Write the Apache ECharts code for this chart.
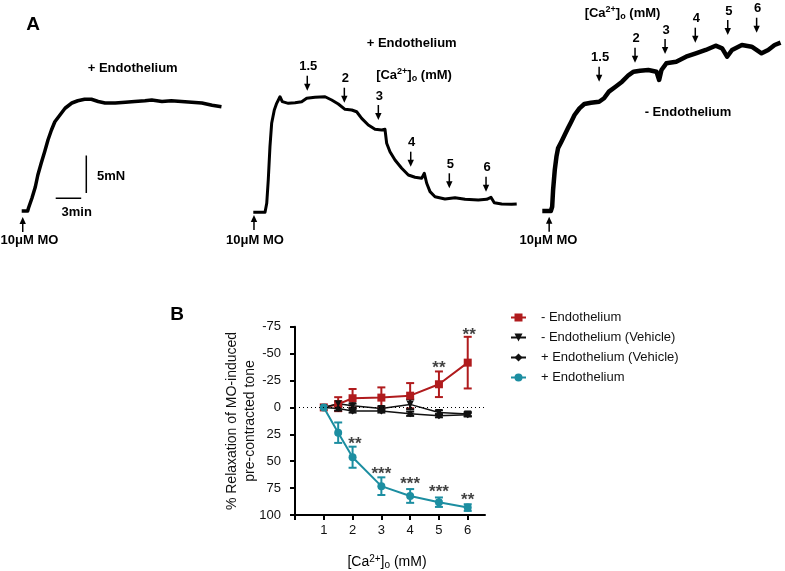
<!DOCTYPE html>
<html><head><meta charset="utf-8">
<script src="https://cdn.jsdelivr.net/npm/echarts@6/dist/echarts.min.js"></script>
<style>html,body{margin:0;padding:0;background:#fff}#c{width:785px;height:571px}</style>
</head><body><div id="c"></div>
<script>
// ---------- Panel A: myograph traces, [time (min), force (mN)] ----------
const trace1 = [[0,0],[0.7,0],[0.8,0.4],[1.2,1.7],[1.6,3.2],[1.9,4.8],[2.3,6.4],[2.7,7.9],[3.1,9.5],[3.5,10.8],[3.9,11.9],[4.5,12.8],[5.1,13.7],[5.9,14.4],[6.6,14.7],[7.4,14.9],[8.2,14.9],[9.0,14.6],[9.8,14.4],[11.0,14.4],[12.2,14.5],[13.3,14.6],[14.5,14.7],[15.3,14.8],[16.5,14.6],[17.6,14.7],[18.8,14.6],[20.0,14.5],[21.2,14.4],[22.4,14.1],[23.5,13.9]];
const trace2 = [[0,0],[1.38,0],[1.58,1.2],[1.76,4.31],[1.96,8.75],[2.16,11.87],[2.47,13.64],[2.75,14.53],[3.14,15.41],[3.41,14.75],[4.12,14.53],[4.91,14.61],[5.69,14.75],[6.28,15.2],[7.26,15.33],[8.44,15.41],[9.22,14.97],[10.0,14.44],[10.79,13.73],[11.58,13.64],[12.16,13.41],[12.75,12.53],[13.53,11.64],[14.32,11.07],[15.11,10.97],[15.49,11.07],[15.69,9.2],[16.08,8.08],[16.67,6.97],[17.46,5.87],[18.24,4.97],[19.02,4.67],[19.81,4.53],[20.12,5.2],[20.4,3.87],[20.79,2.75],[21.38,2.08],[22.55,1.77],[23.73,1.95],[24.91,1.73],[26.47,1.64],[27.46,1.73],[27.96,2.0],[28.35,1.28],[29.22,1.11],[30.4,1.07],[30.99,1.11]];
const trace3 = [[0,0],[1.02,0],[1.18,0.57],[1.29,2.8],[1.49,5.47],[1.69,7.24],[1.88,8.36],[2.28,9.24],[2.67,10.13],[3.06,11.03],[3.46,11.91],[3.85,12.8],[4.44,13.69],[5.02,14.27],[5.81,14.44],[6.79,14.57],[7.38,15.03],[7.96,15.91],[8.75,16.57],[9.53,17.24],[10.32,18.13],[10.91,18.57],[11.69,18.71],[12.67,18.8],[13.65,18.57],[13.96,17.47],[14.24,18.8],[14.82,19.69],[16.0,19.91],[17.18,20.57],[18.35,21.03],[19.53,21.47],[20.71,22.04],[21.49,21.69],[22.08,20.57],[22.67,21.47],[23.85,22.13],[25.02,21.91],[26.2,21.03],[26.99,21.47],[27.76,22.13],[28.47,22.44]];
// [Ca2+]o addition markers: [time, force at arrow tip, label]
const trace2Arrows = [[6.35,16.21,'1.5'],[10.71,14.61,'2'],[14.71,12.31,'3'],[18.52,6.08,'4'],[23.06,3.2,'5'],[27.38,2.75,'6']];
const trace3Arrows = [[6.79,17.24,'1.5'],[11.08,19.77,'2'],[14.67,20.93,'3'],[18.28,22.44,'4'],[22.16,23.47,'5'],[25.61,23.77,'6']];
// 10 uM MO addition (arrow from below)
const moArrow1 = [[0.12,-0.8]];
const moArrow2 = [[0.08,-0.36]];
const moArrow3 = [[0.82,-0.76]];
// scale bars (trace 1 units)
const scaleBarForce = [[7.6,2.4],[7.6,7.4]];   // 5 mN
const scaleBarTime = [[4.0,1.7],[7.0,1.7]];    // 3 min

// ---------- Panel B ----------
const caConc = [1,1.5,2,3,4,5,6];
const minusEndo = [0,-3,-8.5,-9.1,-10.9,-21.5,-41.6];
const minusEndoErr = [0,6.5,8.6,9.5,11.7,11.9,24];
const minusEndoVeh = [0,-3.5,-1.5,1,-2.8,4.7,6.2];
const minusEndoVehErr = [0,2,2,2,4.5,2,2];
const plusEndoVeh = [0,1,3.3,3.3,5.9,7.7,6.8];
const plusEndoVehErr = [0,2,1.5,1.5,2,1.5,1.5];
const plusEndo = [0,23.5,46.3,73.2,82.3,88.1,93.1];
const plusEndoErr = [0,9.5,9.8,8.2,6.4,4.4,3.1];
const sigRed = [[5,-40,'**'],[6.05,-70.4,'**']];
const sigTeal = [[2.08,30.2,'**'],[3,58.1,'***'],[4,67.4,'***'],[5,75.1,'***'],[6,82.3,'**']];
const seriesNames = ['- Endothelium','- Endothelium (Vehicle)','+ Endothelium (Vehicle)','+ Endothelium'];
const yTicks = [-75,-50,-25,0,25,50,75,100];

const FONT = 'Liberation Sans, Arial, sans-serif';
const RED = '#b01b1d', TEAL = '#1c8ea1', BLK = '#111';
const PX_MIN = 8.5, PX_MN = 7.5;

function traceGrid(x0, y0, tMax, fMin, fMax) {
  return {left: x0, top: y0 - fMax*PX_MN, width: tMax*PX_MIN, height: (fMax-fMin)*PX_MN, containLabel:false};
}
const traceGrids = [
  {g: traceGrid(21.7, 211, 24, -5, 16), t:24, fmin:-5, fmax:16},
  {g: traceGrid(253.3, 212.3, 31.5, -5, 16), t:31.5, fmin:-5, fmax:16},
  {g: traceGrid(542.3, 211, 29, -5, 24), t:29, fmin:-5, fmax:24}
];

const grids = traceGrids.map(o => o.g);
grids.push({left:295, top:326.7, width:190, height:188.3});
const xAxes = traceGrids.map((o,i) => ({type:'value', gridIndex:i, min:0, max:o.t, show:false}));
const yAxes = traceGrids.map((o,i) => ({type:'value', gridIndex:i, min:o.fmin, max:o.fmax, show:false}));
xAxes.push({type:'value', gridIndex:3, min:0, max:6.6, interval:1,
  axisLine:{show:true, onZero:false, lineStyle:{color:'#000', width:2}},
  axisTick:{show:true, length:5, lineStyle:{color:'#000', width:2}, customValues:[0,1,2,3,4,5,6]},
  axisLabel:{customValues:[1,2,3,4,5,6], margin:9, fontSize:13, color:'#111', fontFamily:FONT},
  splitLine:{show:false}});
yAxes.push({type:'value', gridIndex:3, min:-75, max:100, interval:25, inverse:true,
  axisLine:{show:true, onZero:false, lineStyle:{color:'#000', width:2}},
  axisTick:{show:true, length:5, lineStyle:{color:'#000', width:2}},
  axisLabel:{margin:14, fontSize:13, color:'#111', fontFamily:FONT},
  splitLine:{show:false}});

function arrowSeries(gi, arr, dir) {
  return {
    type:'custom', xAxisIndex:gi, yAxisIndex:gi, silent:true, clip:false, z:5,
    data: arr.map(a => [a[0], a[1]]),
    renderItem: (params, api) => {
      const p = api.coord([api.value(0), api.value(1)]);
      const L = 15, hw = 3.2, hh = 7;
      const s = dir; // 1 = pointing down, -1 = pointing up
      const lbl = arr[params.dataIndex][2];
      const ch = [
        {type:'line', shape:{x1:p[0], y1:p[1]-s*(hh-1), x2:p[0], y2:p[1]-s*L}, style:{stroke:'#000', lineWidth:1.5}},
        {type:'polygon', shape:{points:[[p[0],p[1]],[p[0]-hw,p[1]-s*hh],[p[0]+hw,p[1]-s*hh]]}, style:{fill:'#000'}}
      ];
      if (lbl) ch.push({type:'text', style:{text:lbl, x:p[0]+1, y:p[1]-s*(L+9), align:'center', verticalAlign:'middle', font:'bold 13px '+FONT, fill:'#000'}});
      return {type:'group', children:ch};
    }
  };
}

function errSeries(vals, errs, color) {
  return {
    type:'custom', xAxisIndex:3, yAxisIndex:3, silent:true, z:2,
    data: caConc.map((c,i) => [c, vals[i]-errs[i], vals[i]+errs[i]]),
    renderItem: (params, api) => {
      if (api.value(2) === api.value(1)) return null;
      const a = api.coord([api.value(0), api.value(1)]);
      const b = api.coord([api.value(0), api.value(2)]);
      const w = 4;
      const st = {stroke:color, lineWidth:2};
      return {type:'group', children:[
        {type:'line', shape:{x1:a[0], y1:a[1], x2:b[0], y2:b[1]}, style:st},
        {type:'line', shape:{x1:a[0]-w, y1:a[1], x2:a[0]+w, y2:a[1]}, style:st},
        {type:'line', shape:{x1:b[0]-w, y1:b[1], x2:b[0]+w, y2:b[1]}, style:st}
      ]};
    }
  };
}

function sigSeries(arr) {
  return {
    type:'scatter', xAxisIndex:3, yAxisIndex:3, symbolSize:0, silent:true, z:6,
    data: arr.map(a => ({value:[a[0], a[1]], label:{formatter:a[2]}})),
    label:{show:true, position:'inside', fontSize:17, fontWeight:'bold', color:'#111', fontFamily:FONT, offset:[0,4]}
  };
}

const traceStyle = w => ({color:'#000', width:w, join:'round'});
const series = [
  {type:'line', xAxisIndex:0, yAxisIndex:0, data:trace1, showSymbol:false, silent:true, lineStyle:traceStyle(3.5)},
  {type:'line', xAxisIndex:1, yAxisIndex:1, data:trace2, showSymbol:false, silent:true, lineStyle:traceStyle(3)},
  {type:'line', xAxisIndex:2, yAxisIndex:2, data:trace3, showSymbol:false, silent:true, lineStyle:traceStyle(4.5)},
  {type:'line', xAxisIndex:0, yAxisIndex:0, data:scaleBarForce, showSymbol:false, silent:true, lineStyle:{color:'#000', width:1.5}},
  {type:'line', xAxisIndex:0, yAxisIndex:0, data:scaleBarTime, showSymbol:false, silent:true, lineStyle:{color:'#000', width:1.5}},
  arrowSeries(1, trace2Arrows, 1),
  arrowSeries(2, trace3Arrows, 1),
  arrowSeries(0, moArrow1, -1),
  arrowSeries(1, moArrow2, -1),
  arrowSeries(2, moArrow3, -1),
  errSeries(minusEndo, minusEndoErr, RED),
  errSeries(minusEndoVeh, minusEndoVehErr, BLK),
  errSeries(plusEndoVeh, plusEndoVehErr, BLK),
  errSeries(plusEndo, plusEndoErr, TEAL),
  {name:seriesNames[0], type:'line', xAxisIndex:3, yAxisIndex:3, data:caConc.map((c,i)=>[c,minusEndo[i]]),
   symbol:'rect', symbolSize:8, itemStyle:{color:RED}, lineStyle:{color:RED, width:2}, z:3,
   markLine:{silent:true, symbol:'none', label:{show:false}, lineStyle:{color:'#000', type:[1,3], width:1}, data:[{yAxis:0}]}},
  {name:seriesNames[1], type:'line', xAxisIndex:3, yAxisIndex:3, data:caConc.map((c,i)=>[c,minusEndoVeh[i]]),
   symbol:'triangle', symbolRotate:180, symbolSize:7, itemStyle:{color:BLK}, lineStyle:{color:BLK, width:1.5}, z:3},
  {name:seriesNames[2], type:'line', xAxisIndex:3, yAxisIndex:3, data:caConc.map((c,i)=>[c,plusEndoVeh[i]]),
   symbol:'diamond', symbolSize:7, itemStyle:{color:BLK}, lineStyle:{color:BLK, width:1.5}, z:3},
  {name:seriesNames[3], type:'line', xAxisIndex:3, yAxisIndex:3, data:caConc.map((c,i)=>[c,plusEndo[i]]),
   symbol:'circle', symbolSize:8, itemStyle:{color:TEAL}, lineStyle:{color:TEAL, width:2}, z:4},
  sigSeries(sigRed),
  sigSeries(sigTeal)
];

function txt(text, x, y, size, weight, align, extra) {
  return Object.assign({type:'text', x:x, y:y, silent:true, style:{text:text, font:(weight||'bold')+' '+size+'px '+FONT, fill:'#000',
    align:align||'center', verticalAlign:'middle', textAlign:align||'center', textVerticalAlign:'middle'}}, extra||{});
}
function caText(x, y, size, weight) {
  const base = {fontSize:size, fontWeight:weight, fontFamily:FONT, fill:'#000', lineHeight:16, verticalAlign:'middle'};
  return {type:'text', x:x, y:y, silent:true, style:{
    text:'{n|[Ca}{sup|2+}{n|]}{sub|o}{n| (mM)}', align:'center', verticalAlign:'middle', textAlign:'center', textVerticalAlign:'middle',
    rich:{n:base,
      sup:{fontSize:size-4, fontWeight:weight, fontFamily:FONT, fill:'#000', lineHeight:9, verticalAlign:'top'},
      sub:{fontSize:size-4, fontWeight:weight, fontFamily:FONT, fill:'#000', lineHeight:9, verticalAlign:'bottom'}}}};
}

const graphic = [
  txt('A', 33, 25, 19, 'bold'),
  txt('+ Endothelium', 132.7, 68, 13),
  txt('5mN', 97, 176, 13, 'bold', 'left'),
  txt('3min', 76.7, 212, 13),
  txt('10μM MO', 29.5, 240, 13),
  txt('10μM MO', 255, 240, 13),
  txt('10μM MO', 548.5, 240, 13),
  txt('+ Endothelium', 411.7, 43, 13),
  caText(414, 75, 13, 'bold'),
  txt('- Endothelium', 688, 112, 13),
  caText(622.5, 13.5, 13, 'bold'),
  txt('B', 177, 315, 19, 'bold'),
  Object.assign(txt('% Relaxation of MO-induced\npre-contracted tone', 0, 0, 14, 'normal'),
    {x:241, y:421, rotation:Math.PI/2}),
  caText(387, 562, 14, 'normal')
];
graphic[12].style.lineHeight = 18;
graphic[12].style.fill = '#111';

const chart = echarts.init(document.getElementById('c'), null, {renderer:'canvas'});
chart.setOption({
  animation:false,
  backgroundColor:'#fff',
  grid:grids, xAxis:xAxes, yAxis:yAxes,
  legend:{orient:'vertical', left:505, top:306, itemWidth:15, itemHeight:10, itemGap:7,
    data:seriesNames, textStyle:{fontSize:13, color:'#111', fontFamily:FONT, padding:[0,0,0,10]}},
  graphic:graphic,
  series:series
});
</script></body></html>
